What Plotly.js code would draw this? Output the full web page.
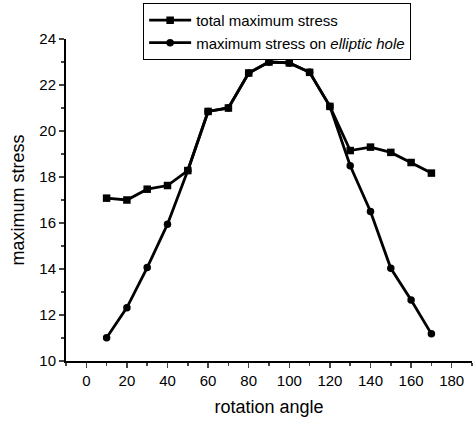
<!DOCTYPE html>
<html>
<head>
<meta charset="utf-8">
<script src="https://cdn.plot.ly/plotly-3.0.1.min.js"></script>
<style>html,body{margin:0;padding:0;background:#fff;}#chart{width:475px;height:428px;}</style>
</head>
<body>
<div id="chart"></div>
<script>
const angles = [10, 20, 30, 40, 50, 60, 70, 80, 90, 100, 110, 120, 130, 140, 150, 160, 170];
const totalMaxStress = [17.08, 17.0, 17.47, 17.63, 18.28, 20.85, 21.0, 22.52, 23.0, 22.96, 22.55, 21.07, 19.15, 19.3, 19.07, 18.63, 18.17];
const holeMaxStress = [11.01, 12.32, 14.06, 15.95, 18.28, 20.85, 21.0, 22.52, 23.0, 22.96, 22.55, 21.07, 18.49, 16.5, 14.03, 12.65, 11.18];
const seriesNames = ["total maximum stress", "maximum stress on <i>elliptic hole</i>"];
const xTitle = "rotation angle";
const yTitle = "maximum stress";

const font = "Liberation Sans, Arial, sans-serif";
const traces = [
  {x: angles, y: totalMaxStress, name: seriesNames[0], type: "scatter", mode: "lines+markers",
   line: {color: "#000", width: 2.8}, marker: {symbol: "square", size: 7.5, color: "#000"}},
  {x: angles, y: holeMaxStress, name: seriesNames[1], type: "scatter", mode: "lines+markers",
   line: {color: "#000", width: 2.8}, marker: {symbol: "circle", size: 7.5, color: "#000"}}
];
const layout = {
  width: 475, height: 428,
  margin: {l: 66, r: 3, t: 39, b: 67},
  paper_bgcolor: "#fff", plot_bgcolor: "#fff",
  font: {family: font, color: "#000", size: 15},
  showlegend: true,
  legend: {x: 0.19, y: 1.112, xanchor: "left", yanchor: "top", bordercolor: "#000", borderwidth: 1,
           bgcolor: "#fff", font: {size: 15, family: font, color: "#000"}, itemwidth: 42, tracegroupgap: 0},
  xaxis: {range: [-10, 190], dtick: 20, tick0: 0, ticks: "outside", ticklen: 5, tickwidth: 1.5,
          showline: true, linecolor: "#000", linewidth: 2, showgrid: false, zeroline: false,
          tickfont: {size: 15}, minor: {dtick: 10, tick0: 0, ticks: "outside", ticklen: 3, tickwidth: 1.5},
          title: {text: xTitle, font: {size: 18}, standoff: 12}},
  yaxis: {range: [10, 24], dtick: 2, tick0: 10, ticks: "outside", ticklen: 5, tickwidth: 1.5,
          showline: true, linecolor: "#000", linewidth: 2, showgrid: false, zeroline: false,
          tickfont: {size: 15}, minor: {dtick: 1, tick0: 10, ticks: "outside", ticklen: 3, tickwidth: 1.5},
          title: {text: yTitle, font: {size: 18}, standoff: 10}}
};
Plotly.newPlot("chart", traces, layout, {displayModeBar: false, staticPlot: true});
</script>
</body>
</html>
